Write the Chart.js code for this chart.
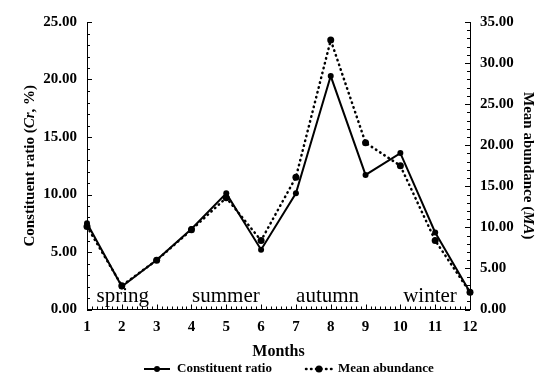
<!DOCTYPE html>
<html>
<head>
<meta charset="utf-8">
<script src="https://cdn.jsdelivr.net/npm/chart.js@4/dist/chart.umd.min.js"></script>
<style>
  html, body { margin: 0; padding: 0; background: #fff; }
  canvas { display: block; }
</style>
</head>
<body>
<canvas id="chart" width="560" height="387"></canvas>
<script>
// Values
const MONTHS = [1, 2, 3, 4, 5, 6, 7, 8, 9, 10, 11, 12];
const CONSTITUENT_RATIO = [7.5, 2.0, 4.3, 7.0, 10.1, 5.2, 10.1, 20.3, 11.7, 13.6, 6.7, 1.5];
const MEAN_ABUNDANCE = [10.1, 2.9, 6.0, 9.7, 13.6, 8.4, 16.1, 32.8, 20.3, 17.5, 8.4, 2.1];
const SEASONS = ['spring', 'summer', 'autumn', 'winter'];
const SEASON_MONTH = [2.03, 4.99, 7.91, 10.85]; // where each season word is centred

const SERIF = '"Liberation Serif", "Times New Roman", serif';

// draw a line of text made of parts with their own fonts, centred on (cx, cy)
function drawRich(ctx, parts, cx, cy, angle) {
  ctx.save();
  ctx.translate(cx, cy);
  ctx.rotate(angle);
  let total = 0;
  parts.forEach(p => { ctx.font = p.font; p.w = ctx.measureText(p.text).width; total += p.w; });
  let xx = -total / 2;
  ctx.textBaseline = 'middle';
  ctx.textAlign = 'left';
  parts.forEach(p => { ctx.font = p.font; ctx.fillText(p.text, xx, 0); xx += p.w; });
  ctx.restore();
}

const decor = {
  id: 'decor',
  afterDraw(chart) {
    const { ctx, chartArea: a, scales: { x, y, y1 } } = chart;
    ctx.save();
    ctx.strokeStyle = '#000';
    ctx.fillStyle = '#000';
    ctx.lineWidth = 1;

    // inward tick marks, major and minor
    ctx.beginPath();
    for (let m = 1; m <= 12; m++) {
      const px = Math.round(x.getPixelForValue(m)) + 0.5;
      ctx.moveTo(px, a.bottom); ctx.lineTo(px, a.bottom - 5);
      if (m < 12) {
        for (let k = 1; k < 7; k++) {
          const q = Math.round(x.getPixelForValue(m + k / 7)) + 0.5;
          ctx.moveTo(q, a.bottom); ctx.lineTo(q, a.bottom - 3);
        }
      }
    }
    for (let v = 0; v <= 25; v++) {
      const py = Math.round(y.getPixelForValue(v)) + 0.5;
      const len = v % 5 === 0 ? 5 : 3;
      ctx.moveTo(a.left, py); ctx.lineTo(a.left + len, py);
    }
    for (let v = 0; v <= 35; v++) {
      const py = Math.round(y1.getPixelForValue(v)) + 0.5;
      const len = v % 5 === 0 ? 5 : 3;
      ctx.moveTo(a.right, py); ctx.lineTo(a.right - len, py);
    }
    ctx.stroke();

    // season words
    ctx.font = '21px ' + SERIF;
    ctx.textAlign = 'center';
    ctx.textBaseline = 'alphabetic';
    SEASONS.forEach((s, i) => ctx.fillText(s, x.getPixelForValue(SEASON_MONTH[i]), a.bottom - 8));

    // axis titles
    const cy = (a.top + a.bottom) / 2;
    drawRich(ctx, [
      { text: 'Constituent ratio (', font: 'bold 15px ' + SERIF },
      { text: 'Cr', font: 'italic bold 15px ' + SERIF },
      { text: ', %)', font: 'bold 15px ' + SERIF }
    ], 30, cy, -Math.PI / 2);
    drawRich(ctx, [
      { text: 'Mean abundance (', font: 'bold 15px ' + SERIF },
      { text: 'MA', font: 'italic bold 15px ' + SERIF },
      { text: ')', font: 'bold 15px ' + SERIF }
    ], 528, cy, Math.PI / 2);

    ctx.font = 'bold 16px ' + SERIF;
    ctx.textAlign = 'center';
    ctx.textBaseline = 'middle';
    ctx.fillText('Months', (a.left + a.right) / 2, 352);

    // legend
    const ly = 369;
    ctx.lineWidth = 2;
    ctx.beginPath(); ctx.moveTo(144, ly); ctx.lineTo(170, ly); ctx.stroke();
    ctx.beginPath(); ctx.arc(157, ly, 3, 0, Math.PI * 2); ctx.fill();
    ctx.lineWidth = 2.5;
    ctx.lineCap = 'round';
    ctx.setLineDash([0.5, 4.5]);
    ctx.beginPath(); ctx.moveTo(306, ly); ctx.lineTo(333, ly); ctx.stroke();
    ctx.setLineDash([]);
    ctx.beginPath(); ctx.arc(319, ly, 3.5, 0, Math.PI * 2); ctx.fill();
    ctx.font = 'bold 13px ' + SERIF;
    ctx.textAlign = 'left';
    ctx.fillText('Constituent ratio', 177, ly);
    ctx.fillText('Mean abundance', 338, ly);
    ctx.restore();
  }
};

const tickFont = { family: SERIF, size: 15, weight: 'bold' };

new Chart(document.getElementById('chart'), {
  type: 'line',
  data: {
    datasets: [
      {
        label: 'Constituent ratio',
        data: MONTHS.map((m, i) => ({ x: m, y: CONSTITUENT_RATIO[i] })),
        yAxisID: 'y',
        borderColor: '#000',
        backgroundColor: '#000',
        borderWidth: 2,
        pointRadius: 3,
        pointBackgroundColor: '#000',
        pointBorderWidth: 0,
        tension: 0,
        clip: false
      },
      {
        label: 'Mean abundance',
        data: MONTHS.map((m, i) => ({ x: m, y: MEAN_ABUNDANCE[i] })),
        yAxisID: 'y1',
        borderColor: '#000',
        backgroundColor: '#000',
        borderWidth: 2.5,
        borderDash: [0.5, 4.5],
        borderCapStyle: 'round',
        pointRadius: 3.5,
        pointBackgroundColor: '#000',
        pointBorderWidth: 0,
        tension: 0,
        clip: false
      }
    ]
  },
  options: {
    responsive: false,
    animation: false,
    layout: { padding: { top: 22, left: 0, right: 0, bottom: 0 } },
    plugins: { legend: { display: false }, tooltip: { enabled: false } },
    scales: {
      x: {
        type: 'linear',
        min: 1, max: 12,
        grid: { display: false, drawTicks: false },
        border: { display: true, color: '#000', width: 1 },
        ticks: { stepSize: 1, color: '#000', font: tickFont, padding: 9, maxRotation: 0 },
        afterFit: s => { s.height = 77.5; }
      },
      y: {
        position: 'left',
        min: 0, max: 25,
        grid: { display: false, drawTicks: false },
        border: { display: true, color: '#000', width: 1 },
        ticks: { stepSize: 5, color: '#000', font: tickFont, padding: 10, callback: v => v.toFixed(2) },
        afterFit: s => { s.width = 87; }
      },
      y1: {
        position: 'right',
        min: 0, max: 35,
        grid: { display: false, drawTicks: false },
        border: { display: true, color: '#000', width: 1 },
        ticks: { stepSize: 5, color: '#000', font: tickFont, padding: 10, callback: v => v.toFixed(2) },
        afterFit: s => { s.width = 90; }
      }
    }
  },
  plugins: [decor]
});
</script>
</body>
</html>
